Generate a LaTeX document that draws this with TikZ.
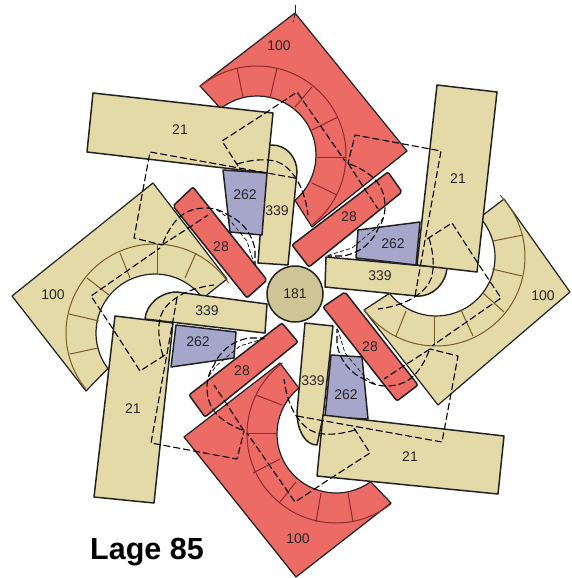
\documentclass[tikz,border=0pt]{standalone}
\usepackage{fontspec}
\setmainfont{Liberation Sans}
\usetikzlibrary{calc}
\definecolor{redf}{HTML}{EC6B65}
\definecolor{tanf}{HTML}{E4DAA8}
\definecolor{bluef}{HTML}{A6A6CA}
\definecolor{circf}{HTML}{CDC596}
\definecolor{redl}{HTML}{8C2C2C}
\definecolor{tanl}{HTML}{7A5C24}
\definecolor{ink}{HTML}{222222}
\tikzset{
  solidpart/.style={draw=ink,line width=1.5pt,line join=round},
  bigpart/.style={draw=ink,line width=1.2pt,line join=round},
  ringline/.style={line width=1pt},
  redbar/.style={solidpart,fill=redf,rounded corners=2pt},
  hidden/.style={draw=black,line width=1.1pt,dash pattern=on 7pt off 3pt,line join=round},
  hiddenthin/.style={draw=black,line width=0.7pt,dash pattern=on 4pt off 2.5pt},
  lbl/.style={font=\fontsize{14}{14}\selectfont,inner sep=0pt,text=black!85},
  titlelbl/.style={font=\bfseries\fontsize{30.5}{30}\selectfont,inner sep=0pt,text=black}
}
\newcommand{\ringarm}[7]{%
  \path[bigpart,fill=#3] #5 -- ($(#1,#2)+(#6:59)$) arc[start angle=#6,end angle=#7,radius=59pt] -- cycle;
  \draw[ringline,draw=#4] ($(#1,#2)+(#6+2:89)$) arc[start angle=#6+2,end angle=#7-2,radius=89pt];
}
\begin{document}
\begin{tikzpicture}[x=1pt,y=1pt,yscale=-1]
\useasboundingbox (0,0) rectangle (572,578);
% large curved parts
\ringarm{257}{155}{redf}{redl}{(200,86) -- (295,13) -- (407,151) -- (312,227)}{50}{-128}
\ringarm{436}{257}{tanf}{tanl}{(504,199) -- (570,292) -- (438,405) -- (364,310)}{142}{-42}
\ringarm{336}{434}{redf}{redl}{(391,503) -- (296,577) -- (184,437) -- (280,363)}{-129}{-306}
\ringarm{155}{333}{tanf}{tanl}{(86,391) -- (12,296) -- (153,183) -- (227,279)}{-36}{-217}
% ring divisions
\foreach \a/\b/\c/\d in {237/68/243/97,277/68/270/98,312/87/295/107,338/117/312/130,346/157/317/157,337/195/312/183}
  \draw[ringline,draw=redl] (\a,\b) -- (\c,\d);
\foreach \a/\b/\c/\d in {353/522/348/493,316/522/321/493,280/502/296/482,253/473/280/459,246/433/276/433,256/395/282/405}
  \draw[ringline,draw=redl] (\a,\b) -- (\c,\d);
\foreach \a/\b/\c/\d in {493/241/523/235,492/269/522/276,483/293/504/312,461/310/473/336,434/316/434/345,406/311/396/336}
  \draw[ringline,draw=tanl] (\a,\b) -- (\c,\d);
\foreach \a/\b/\c/\d in {120/253/130/278,157/244/157/274,196/253/185/278,87/278/109/295,69/314/99/321,70/354/98/348}
  \draw[ringline,draw=tanl] (\a,\b) -- (\c,\d);
% parts 339
\path[solidpart,fill=tanf] (258,263) -- (267,145) -- (272,145) .. controls (287,145) and (297,158) .. (297,172) -- (288,265) -- cycle;
\path[solidpart,fill=tanf] (326,257) -- (447,268) .. controls (446,283) and (433,297) .. (417,296) -- (325,287) -- cycle;
\path[solidpart,fill=tanf] (305,323) -- (333,326) -- (323,417) -- (317,445) .. controls (305,445) and (297,430) .. (297,412) -- cycle;
\path[solidpart,fill=tanf] (267,304) -- (265,333) -- (145,319) .. controls (146,305) and (160,292) .. (177,292) -- cycle;
% parts 262
\path[solidpart,fill=bluef] (223,170) -- (267,173) -- (262,235) -- (230,232) -- cycle;
\path[solidpart,fill=bluef] (358,230) -- (420,222) -- (416,265) -- (356,258) -- cycle;
\path[solidpart,fill=bluef] (331,355) -- (362,357) -- (368,419) -- (325,417) -- cycle;
\path[solidpart,fill=bluef] (176,325) -- (236,332) -- (234,358) -- (171,367) -- cycle;
% parts 28
\path[redbar] (193,187) -- (267,280) -- (247,298) -- (173,206) -- cycle;
\path[redbar] (388,172) -- (402,192) -- (309,267) -- (292,245) -- cycle;
\path[redbar] (345,292) -- (418,385) -- (397,401) -- (323,307) -- cycle;
\path[redbar] (282,323) -- (298,342) -- (205,417) -- (189,395) -- cycle;
% parts 21
\path[solidpart,fill=tanf] (93,93) -- (273,113) -- (267,173) -- (87,152) -- cycle;
\path[solidpart,fill=tanf] (437,85) -- (497,92) -- (477,272) -- (417,265) -- cycle;
\path[solidpart,fill=tanf] (323,415) -- (504,436) -- (498,494) -- (317,476) -- cycle;
\path[solidpart,fill=tanf] (115,316) -- (173,323) -- (154,503) -- (94,497) -- cycle;
% hub
\node[solidpart,fill=circf,circle,minimum size=56pt,inner sep=0pt] (hub) at (295,294) {};
% hidden edges, four-fold
\foreach \r in {0,90,180,270}{
\begin{scope}[rotate around={\r:(296,297)}]
  \draw[hidden] (238,166) -- (222,141) -- (267,112) -- (297,92) -- (345,161);
  \draw[hidden] (295,178) -- (150,152) -- (134,238) -- (162,245);
  \draw[hidden] (162,245) -- (190,227) -- (208,215);
  \draw[hidden] (163,243) .. controls (169,228) and (178,214) .. (192,210) .. controls (205,206) and (218,208) .. (228,215) .. controls (240,220) and (252,232) .. (255,250) -- (255,265);
  \draw[hidden] (237,164) .. controls (250,160) and (270,157) .. (282,164) .. controls (295,172) and (305,190) .. (308,215);
  \draw[hiddenthin] (217,210) -- (227,217) -- (247,241) -- (255,267);
\end{scope}}
\draw[line width=1pt,draw=ink] (295,5) -- (295,14);
\draw[hiddenthin] (295,14) -- (293,22);
% labels
\foreach \x/\y/\t/\n in {279/46/100/a,543/296/100/b,298/539/100/c,53/295/100/d,
  180/130/21/e,458/179/21/f,410/457/21/g,133/409/21/h,
  221/247/28/i,349/217/28/j,370/347/28/k,242/371/28/l,
  277/211/339/m,380/276/339/n,313/381/339/o,207/311/339/p,
  245/195/262/q,393/244/262/r,346/395/262/s,198/342/262/t,
  295/294/181/u}
  \node[lbl] (l\n) at (\x,\y) {\t};
\node[titlelbl,anchor=base west] (title) at (90,559) {Lage 85};
\end{tikzpicture}
\end{document}
